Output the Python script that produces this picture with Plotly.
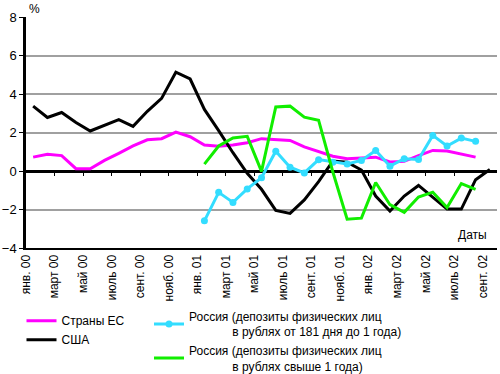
import plotly.graph_objects as go

# ---- data ----
tick_labels = ["янв. 00", "март 00", "май 00", "июль 00", "сент. 00", "нояб. 00",
               "янв. 01", "март 01", "май 01", "июль 01", "сент. 01", "нояб. 01",
               "янв. 02", "март 02", "май 02", "июль 02", "сент. 02"]
months = list(range(33))  # Jan 2000 .. Sep 2002

eu = [0.72, 0.87, 0.80, 0.12, 0.12, 0.55, 0.92, 1.30, 1.62, 1.68, 2.02, 1.78,
      1.35, 1.28, 1.35, 1.47, 1.68, 1.65, 1.59, 1.25, 1.03, 0.77, 0.64, 0.68,
      0.72, 0.47, 0.50, 0.80, 1.07, 1.04, 0.88, 0.72]
usa = [3.37, 2.78, 3.04, 2.52, 2.08, 2.37, 2.67, 2.32, 3.10, 3.77, 5.13, 4.78,
       3.20, 2.10, 0.95, -0.12, -0.95, -2.05, -2.20, -1.50, -0.55, 0.52, 0.46,
       0.05, -1.30, -2.08, -1.30, -0.75, -1.35, -1.98, -1.98, -0.45, 0.08]
ru_short = [-2.59, -1.11, -1.63, -0.93, -0.35, 1.03, 0.20, -0.10, 0.59, 0.46,
            0.36, 0.55, 1.07, 0.25, 0.64, 0.60, 1.85, 1.30, 1.71, 1.54]
ru_long = [0.36, 1.30, 1.72, 1.80, -0.02, 3.33, 3.37, 2.80, 2.64, -0.05,
           -2.50, -2.45, -0.60, -1.75, -2.15, -1.35, -1.10, -1.90, -0.65, -0.95]

eu_x = months[:len(eu)]
usa_x = months[:len(usa)]
ru_x = months[12:12 + len(ru_short)]
tick_pos = [m - 0.5 for m in months[::2]]

FONT = "Liberation Sans Narrow, Arial Narrow, Liberation Sans, Arial, sans-serif"
PAD = "\u00a0" * 13

fig = go.Figure()
fig.add_trace(go.Scatter(x=eu_x, y=eu, mode="lines", name="Страны ЕС",
                         line=dict(color="#FF00FF", width=3), legend="legend"))
fig.add_trace(go.Scatter(x=usa_x, y=usa, mode="lines", name="США",
                         line=dict(color="#000000", width=3), legend="legend"))
fig.add_trace(go.Scatter(x=ru_x, y=ru_short, mode="lines+markers",
                         name="Россия (депозиты физических лиц<br>" + PAD + "в рублях от 181 дня до 1 года)",
                         line=dict(color="#33DDFF", width=3),
                         marker=dict(color="#33DDFF", size=7), legend="legend2"))
fig.add_trace(go.Scatter(x=ru_x, y=ru_long, mode="lines",
                         name="Россия (депозиты физических лиц<br>" + PAD + "в рублях свыше 1 года)",
                         line=dict(color="#11EE00", width=3), legend="legend2"))
# helper trace so the zero-line tick axis is drawn
fig.add_trace(go.Scatter(x=[None], y=[None], xaxis="x2", showlegend=False, hoverinfo="skip"))

fig.update_layout(
    width=500, height=374,
    margin=dict(l=26, r=3, t=17, b=126, autoexpand=False),
    paper_bgcolor="white", plot_bgcolor="white",
    font=dict(family=FONT, size=12, color="#000"),
    xaxis=dict(range=[-0.5, 32.5], tickmode="array", tickvals=tick_pos, ticktext=tick_labels,
               tickangle=-90, showgrid=False, zeroline=False, showline=True,
               linecolor="#000", linewidth=2, ticks="", tickfont=dict(size=12)),
    xaxis2=dict(range=[-0.5, 32.5], overlaying="x", anchor="free", position=1/3,
                tickmode="array", tickvals=[m + 0.5 for m in months[1::2]],
                ticks="outside", ticklen=4, tickwidth=1, tickcolor="#000",
                showticklabels=False, showgrid=False, zeroline=False, showline=False),
    yaxis=dict(range=[-4, 8], dtick=2, showgrid=True, gridcolor="#A0A0A0", gridwidth=1.5,
               zeroline=True, zerolinecolor="#000", zerolinewidth=2.5,
               showline=True, linecolor="#000", linewidth=2.5,
               ticks="outside", ticklen=4, tickcolor="#000", tickfont=dict(size=13)),
    legend=dict(x=0.043, y=0.181, xref="container", yref="container", xanchor="left", yanchor="top",
                bgcolor="rgba(0,0,0,0)", font=dict(size=12), itemwidth=30, tracegroupgap=0),
    legend2=dict(x=0.298, y=0.193, xref="container", yref="container", xanchor="left", yanchor="top",
                 bgcolor="rgba(0,0,0,0)", font=dict(size=12), itemwidth=30, tracegroupgap=0),
    annotations=[
        dict(text="%", xref="paper", yref="paper", x=0.017, y=1.035, showarrow=False,
             xanchor="center", yanchor="middle", font=dict(size=12)),
        dict(text="Даты", xref="paper", yref="paper", x=0.949, y=0.056, showarrow=False,
             xanchor="center", yanchor="middle", font=dict(size=12)),
    ],
)

fig.write_html("out.html", config={"displayModeBar": False},
               post_script="document.body.style.margin='0';document.body.style.overflow='hidden';")
